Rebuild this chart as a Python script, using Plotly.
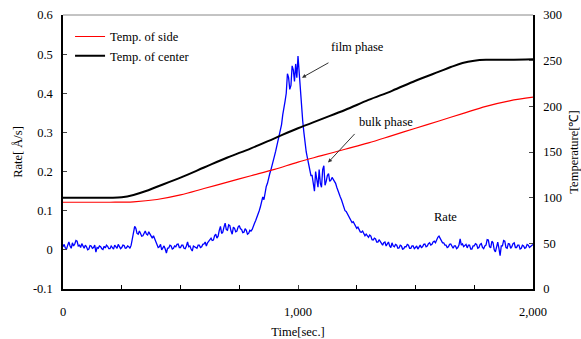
import numpy as np
import plotly.graph_objects as go

# ---- data ----
rate_time = list(range(0, 2001, 5))
rate_vals = [
    0.008, 0.014, 0.005, 0.002, 0.012, 0.020, 0.010, 0.004, 0.018, 0.010, 0.015, 0.024, 0.022, 0.010, 0.012, 0.006, 0.016, 0.008, 0.004, 0.012,
    0.008, 0.000, 0.002, 0.011, 0.010, 0.004, 0.006, 0.012, -0.006, 0.006, 0.004, 0.010, 0.008, 0.003, 0.001, 0.009, 0.005, 0.012, 0.009, 0.003,
    0.003, 0.010, 0.007, 0.002, 0.012, 0.006, 0.004, 0.014, 0.009, 0.003, 0.006, 0.012, 0.011, 0.004, 0.005, 0.010, 0.008, 0.004, 0.012, 0.030,
    0.045, 0.060, 0.055, 0.042, 0.040, 0.048, 0.042, 0.035, 0.036, 0.044, 0.048, 0.040, 0.038, 0.046, 0.040, 0.032, 0.030, 0.036, 0.028, 0.020,
    0.015, 0.006, 0.008, 0.014, 0.000, 0.006, 0.010, 0.002, -0.008, 0.004, 0.005, 0.012, 0.010, 0.002, 0.004, 0.010, 0.008, 0.014, 0.015, 0.006,
    0.006, 0.012, 0.012, 0.004, 0.003, 0.010, 0.020, 0.008, 0.010, 0.002, -0.003, 0.010, 0.008, 0.004, 0.004, 0.012, 0.012, 0.006, 0.008, 0.014,
    0.015, 0.020, 0.010, 0.018, 0.022, 0.028, 0.030, 0.024, 0.025, 0.036, 0.040, 0.030, 0.035, 0.050, 0.060, 0.042, 0.045, 0.058, 0.068, 0.052,
    0.050, 0.064, 0.062, 0.048, 0.040, 0.058, 0.055, 0.046, 0.048, 0.058, 0.062, 0.054, 0.052, 0.044, 0.045, 0.054, 0.050, 0.040, 0.042, 0.050,
    0.048, 0.052, 0.058, 0.068, 0.075, 0.082, 0.090, 0.100, 0.110, 0.122, 0.135, 0.128, 0.150, 0.162, 0.170, 0.185, 0.195, 0.205, 0.215, 0.228,
    0.240, 0.252, 0.265, 0.280, 0.290, 0.310, 0.320, 0.345, 0.360, 0.380, 0.400, 0.450, 0.440, 0.410, 0.420, 0.470, 0.460, 0.430, 0.475, 0.440,
    0.495, 0.450, 0.410, 0.370, 0.330, 0.300, 0.270, 0.250, 0.235, 0.220, 0.210, 0.190, 0.190, 0.165, 0.150, 0.200, 0.175, 0.160, 0.205, 0.170,
    0.160, 0.205, 0.215, 0.165, 0.175, 0.190, 0.195, 0.175, 0.178, 0.185, 0.180, 0.175, 0.170, 0.160, 0.150, 0.145, 0.135, 0.128, 0.120, 0.110,
    0.100, 0.098, 0.092, 0.085, 0.080, 0.075, 0.070, 0.072, 0.065, 0.058, 0.055, 0.058, 0.052, 0.046, 0.045, 0.048, 0.042, 0.036, 0.040, 0.035,
    0.032, 0.038, 0.035, 0.026, 0.025, 0.030, 0.028, 0.020, 0.020, 0.026, 0.022, 0.015, 0.012, 0.018, 0.020, 0.010, 0.015, 0.020, 0.010, 0.006,
    0.018, 0.010, 0.008, 0.014, 0.012, 0.004, 0.005, 0.012, 0.010, 0.002, 0.003, 0.008, 0.008, 0.014, 0.012, 0.004, 0.004, 0.010, 0.010, 0.003,
    0.006, 0.010, 0.002, 0.008, 0.012, 0.006, 0.008, 0.014, 0.015, 0.008, 0.010, 0.016, 0.018, 0.012, 0.014, 0.020, 0.022, 0.018, 0.028, 0.032,
    0.035, 0.030, 0.025, 0.018, 0.018, 0.012, 0.012, 0.006, 0.008, 0.014, 0.015, 0.008, 0.004, 0.010, 0.010, 0.003, 0.006, 0.012, 0.028, 0.012,
    0.015, 0.008, 0.010, 0.014, 0.005, 0.012, 0.012, 0.002, 0.002, 0.010, 0.010, 0.016, 0.014, 0.004, 0.006, 0.014, 0.016, 0.006, 0.003, 0.010,
    0.012, 0.026, 0.025, 0.008, 0.005, 0.022, 0.018, 0.000, -0.005, 0.012, 0.020, 0.004, -0.015, 0.010, 0.010, 0.024, 0.022, 0.006, 0.004, 0.016,
    0.015, 0.004, 0.008, 0.016, 0.018, 0.006, 0.006, 0.012, 0.012, 0.002, 0.004, 0.012, 0.010, 0.004, 0.006, 0.014, 0.012, 0.006, 0.008, 0.012,
    0.014,
]

side_time = [0, 100, 200, 300, 400, 500, 600, 700, 800, 900, 1000, 1100, 1200,
             1300, 1400, 1500, 1600, 1700, 1800, 1900, 2000]
side_temp = [95, 95, 95, 95.5, 98, 103, 110, 117, 124, 131, 139, 146, 153,
             160, 168, 176, 184, 192, 200, 206, 210]

center_time = [0, 100, 200, 250, 300, 350, 400, 500, 600, 700, 800, 900, 1000,
               1100, 1200, 1300, 1400, 1500, 1600, 1650, 1700, 1750, 1800, 1900, 2000]
center_temp = [100, 100, 100, 100.5, 103, 107, 112, 122, 133, 144, 154, 165, 176,
               186, 196, 207, 217, 228, 238, 243, 247.5, 250, 251, 251, 251.5]

left_ticks = [-0.1, 0, 0.1, 0.2, 0.3, 0.4, 0.5, 0.6]
left_labels = ["-0.1", "0", "0.1", "0.2", "0.3", "0.4", "0.5", "0.6"]
right_ticks = [0, 50, 100, 150, 200, 250, 300]
x_ticks = [0, 1000, 2000]
x_labels = ["0", "1,000", "2,000"]

FONT = "Liberation Serif, Times New Roman, serif"
FS = 12.5

fig = go.Figure()
fig.add_trace(go.Scatter(x=rate_time, y=rate_vals, mode="lines",
                         line=dict(color="#0000ff", width=1.3), showlegend=False,
                         name="Rate"))
fig.add_trace(go.Scatter(x=side_time, y=side_temp, mode="lines", yaxis="y2",
                         line=dict(color="#ff0000", width=1.2, shape="spline"),
                         name="Temp. of side"))
fig.add_trace(go.Scatter(x=center_time, y=center_temp, mode="lines", yaxis="y2",
                         line=dict(color="#000000", width=2, shape="spline"),
                         name="Temp. of center"))

fig.update_layout(
    width=581, height=339,
    margin=dict(l=63, r=48, t=15, b=50, autoexpand=False),
    paper_bgcolor="white", plot_bgcolor="white",
    font=dict(family=FONT, size=FS, color="black"),
    xaxis=dict(range=[0, 2000], tickvals=x_ticks, ticktext=x_labels,
               ticks="inside", ticklen=4, showline=True, linecolor="black",
               linewidth=1.5, showgrid=False, zeroline=False, automargin=False,
               ticklabelstandoff=10,
               minor=dict(dtick=250, ticks="inside", ticklen=4, tickcolor="black"),
               title=dict(text="Time[sec.]", standoff=12, font=dict(size=FS))),
    yaxis=dict(range=[-0.1, 0.6], tickvals=left_ticks, ticktext=left_labels,
               ticks="inside", ticklen=4, showline=True, linecolor="black",
               linewidth=1.5, showgrid=False, zeroline=False, automargin=False,
               ticklabelstandoff=6,
               title=dict(text="Rate[ Å/s]", standoff=8, font=dict(size=FS))),
    yaxis2=dict(range=[0, 300], tickvals=right_ticks, overlaying="y", side="right",
                ticks="inside", ticklen=4, showline=True, linecolor="black",
                linewidth=1.5, showgrid=False, zeroline=False, automargin=False,
                ticklabelstandoff=6,
                title=dict(text="Temperature[℃]", standoff=8, font=dict(size=FS))),
    legend=dict(x=0.015, y=0.975, xanchor="left", yanchor="top",
                bgcolor="rgba(0,0,0,0)", font=dict(size=FS),
                tracegroupgap=0, itemwidth=30),
    shapes=[dict(type="line", xref="paper", yref="paper", x0=0, x1=1, y0=1, y1=1,
                 line=dict(color="#888888", width=1))],
    annotations=[
        dict(x=1017, y=0.44, ax=1136, ay=0.48, xref="x", yref="y", axref="x", ayref="y",
             text="", showarrow=True, arrowhead=2, arrowsize=0.8, arrowwidth=1,
             arrowcolor="#333333"),
        dict(x=1255, y=0.519, xref="x", yref="y", text="film phase", showarrow=False,
             font=dict(size=FS)),
        dict(x=1128, y=0.223, ax=1247, ay=0.30, xref="x", yref="y", axref="x", ayref="y",
             text="", showarrow=True, arrowhead=2, arrowsize=0.8, arrowwidth=1,
             arrowcolor="#333333"),
        dict(x=1374, y=0.326, xref="x", yref="y", text="bulk phase", showarrow=False,
             font=dict(size=FS)),
        dict(x=1626, y=0.085, xref="x", yref="y", text="Rate", showarrow=False,
             font=dict(size=FS)),
    ],
)

fig.write_html("out.html")
